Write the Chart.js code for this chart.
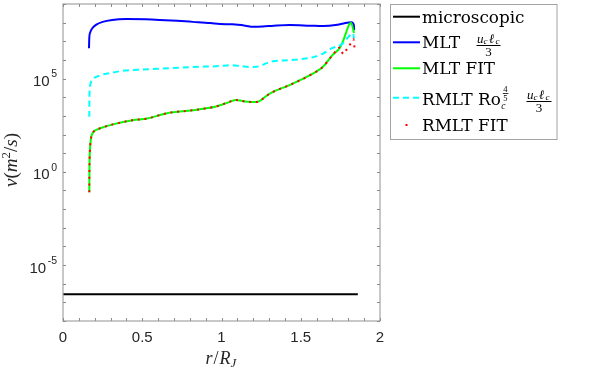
<!DOCTYPE html>
<html>
<head>
<meta charset="utf-8">
<script src="https://cdn.jsdelivr.net/npm/chart.js@4.4.1/dist/chart.umd.min.js"></script>
<style>
  html, body { margin: 0; padding: 0; background: #ffffff; }
  #wrap { width: 598px; height: 368px; }
</style>
</head>
<body>
<div id="wrap"><canvas id="nuChart" width="598" height="368"></canvas></div>
<script>
// radius r/R_J and viscosity nu (m^2/s)
const rMicro = [0, 1.86];
const nuMicro = [2.7e-7, 2.7e-7];

const rMLT = [0.164, 0.166, 0.171, 0.185, 0.21, 0.25, 0.31, 0.40, 0.52, 0.61, 0.72, 0.82, 0.93, 0.99, 1.07, 1.15, 1.20, 1.26, 1.33, 1.43, 1.56, 1.64, 1.72, 1.77, 1.82, 1.835, 1.837];
const nuMLT = [4.2e6, 1.6e7, 2.9e7, 5.0e7, 7.8e7, 1.1e8, 1.4e8, 1.55e8, 1.5e8, 1.4e8, 1.25e8, 1.1e8, 9.5e7, 8.5e7, 8.1e7, 6.9e7, 6.0e7, 6.2e7, 6.8e7, 7.4e7, 6.9e7, 6.6e7, 7.4e7, 9.1e7, 1.05e8, 7.4e7, 4.0e7];

const rMLTFit = [0.166, 0.1665, 0.168, 0.172, 0.178, 0.187, 0.205, 0.23, 0.315, 0.44, 0.53, 0.656, 0.82, 0.896, 0.96, 1.035, 1.09, 1.15, 1.22, 1.29, 1.325, 1.43, 1.54, 1.64, 1.70, 1.748, 1.77, 1.804, 1.817, 1.836];
const nuMLTFit = [8.1e-2, 0.66, 5.4, 27, 72, 120, 170, 210, 350, 590, 720, 1.4e3, 2.0e3, 2.5e3, 3.1e3, 5.0e3, 7.1e3, 5.9e3, 5.5e3, 1.3e4, 1.95e4, 4.5e4, 1.26e5, 4.3e5, 1.8e6, 4.7e6, 1.2e7, 7.4e7, 1.0e8, 2.8e7];

const rRMLT = [0.166, 0.1665, 0.169, 0.185, 0.23, 0.30, 0.39, 0.505, 0.675, 0.82, 0.99, 1.05, 1.12, 1.18, 1.22, 1.31, 1.43, 1.50, 1.59, 1.64, 1.70, 1.75, 1.78, 1.80, 1.83, 1.836];
const nuRMLT = [8.9e2, 7.1e3, 3.0e4, 8.3e4, 1.45e5, 2.0e5, 2.7e5, 3.1e5, 3.6e5, 4.2e5, 4.7e5, 5.2e5, 4.7e5, 4.2e5, 4.3e5, 7.9e5, 9.8e5, 1.1e6, 1.5e6, 2.2e6, 4.4e6, 6.3e6, 1.0e7, 1.7e7, 2.7e7, 1.4e7];

const rRMLTFit = [0.166, 0.1665, 0.168, 0.172, 0.178, 0.187, 0.205, 0.23, 0.315, 0.44, 0.53, 0.656, 0.82, 0.896, 0.96, 1.035, 1.09, 1.15, 1.22, 1.29, 1.325, 1.43, 1.54, 1.64, 1.70, 1.748, 1.768, 1.79, 1.806, 1.821, 1.832, 1.842];
const nuRMLTFit = [8.1e-2, 0.66, 5.4, 27, 72, 120, 170, 210, 350, 590, 720, 1.4e3, 2.0e3, 2.5e3, 3.1e3, 5.0e3, 7.1e3, 5.9e3, 5.5e3, 1.3e4, 1.95e4, 4.5e4, 1.26e5, 4.3e5, 1.8e6, 4.7e6, 2.1e6, 3.7e6, 5.8e6, 9.5e6, 1.3e7, 2.6e6];

// ticks
const xTickValues = [0, 0.1, 0.2, 0.3, 0.4, 0.5, 0.6, 0.7, 0.8, 0.9, 1, 1.1, 1.2, 1.3, 1.4, 1.5, 1.6, 1.7, 1.8, 1.9, 2];
const xLabelValues = [0, 0.5, 1, 1.5, 2];
const xLabels = ['0', '0.5', '1', '1.5', '2'];
const yTickExps = [-8, -7, -6, -5, -4, -3, -2, -1, 0, 1, 2, 3, 4, 5, 6, 7, 8, 9];
const yLabelExps = [-5, 0, 5];

const pts = (rs, vs) => rs.map((r, i) => ({ x: r, y: vs[i] }));

const SANS = '"Liberation Sans", Arial, sans-serif';
const SERIF = '"DejaVu Serif", serif';
const MATH = '"Liberation Serif", serif';

function frac(ctx, den, cx, barY, w) {
    // u_c l_c over 3
    ctx.save();
    ctx.textAlign = 'left';
    ctx.textBaseline = 'alphabetic';
    const x0 = cx - w / 2;
    ctx.font = 'italic 13px ' + MATH;
    ctx.fillText('u', x0 + 0.5, barY - 3);
    ctx.font = 'italic 9px ' + MATH;
    ctx.fillText('c', x0 + 7, barY - 1.5);
    ctx.font = 'italic 13px ' + MATH;
    ctx.fillText('\u2113', x0 + 12.5, barY - 3);
    ctx.font = 'italic 9px ' + MATH;
    ctx.fillText('c', x0 + 19, barY - 1.5);
    ctx.fillRect(x0, barY - 0.5, w, 1);
    ctx.font = '13px ' + MATH;
    ctx.textAlign = 'center';
    ctx.fillText(den, cx, barY + 10.5);
    ctx.restore();
}

const framePlugin = {
    id: 'frame',
    afterDraw(chart) {
        const { ctx, chartArea: a, scales: { x, y } } = chart;
        ctx.save();

        // axes box
        ctx.strokeStyle = '#a3a3a3';
        ctx.lineWidth = 1.2;
        ctx.strokeRect(a.left, a.top, a.right - a.left, a.bottom - a.top);

        // inward ticks
        ctx.strokeStyle = '#8c8c8c';
        ctx.lineWidth = 1;
        ctx.beginPath();
        xTickValues.forEach(v => {
            const px = Math.round(x.getPixelForValue(v)) + 0.5;
            ctx.moveTo(px, a.bottom); ctx.lineTo(px, a.bottom - 3);
            ctx.moveTo(px, a.top); ctx.lineTo(px, a.top + 3);
        });
        yTickExps.forEach(e => {
            const py = Math.round(y.getPixelForValue(Math.pow(10, e))) + 0.5;
            ctx.moveTo(a.left, py); ctx.lineTo(a.left + 3, py);
            ctx.moveTo(a.right, py); ctx.lineTo(a.right - 3, py);
        });
        ctx.stroke();

        // x tick labels
        ctx.fillStyle = '#262626';
        ctx.font = '15px ' + SANS;
        ctx.textAlign = 'center';
        ctx.textBaseline = 'middle';
        xLabelValues.forEach((v, i) => {
            ctx.fillText(xLabels[i], x.getPixelForValue(v), a.bottom + 16.5);
        });

        // y tick labels 10^e
        yLabelExps.forEach(e => {
            const py = y.getPixelForValue(Math.pow(10, e));
            ctx.font = '10.5px ' + SANS;
            const es = e < 0 ? '-' + Math.abs(e) : String(e);
            const ew = ctx.measureText(es).width;
            ctx.textAlign = 'left';
            ctx.textBaseline = 'middle';
            const xe = 57 - ew;
            ctx.fillText(es, xe, py - 4);
            ctx.font = '15px ' + SANS;
            ctx.textAlign = 'right';
            ctx.fillText('10', xe - 1.5, py + 3.5);
        });

        // axis titles
        ctx.fillStyle = '#262626';
        ctx.textBaseline = 'alphabetic';
        ctx.textAlign = 'left';
        {
            const parts = [['italic 18px ' + MATH, 'r'], ['18px ' + MATH, '/'], ['italic 18px ' + MATH, 'R']];
            let w = 0;
            parts.forEach(p => { ctx.font = p[0]; w += ctx.measureText(p[1]).width + 1; });
            ctx.font = 'italic 13px ' + MATH;
            w += ctx.measureText('J').width;
            let cx = (a.left + a.right) / 2 - w / 2;
            parts.forEach(p => { ctx.font = p[0]; ctx.fillText(p[1], cx, 364); cx += ctx.measureText(p[1]).width + 1; });
            ctx.font = 'italic 13px ' + MATH;
            ctx.fillText('J', cx - 1, 367);
        }
        ctx.save();
        ctx.translate(17, 160);
        ctx.rotate(-Math.PI / 2);
        {
            const parts = [['italic 19px ' + MATH, '\u03bd', 0], ['19px ' + MATH, '(', 0], ['italic 19px ' + MATH, 'm', 0],
                           ['13px ' + MATH, '2', -7.5], ['19px ' + MATH, '/', 0], ['italic 19px ' + MATH, 's', 0], ['19px ' + MATH, ')', 0]];
            let w = 0;
            parts.forEach(p => { ctx.font = p[0]; w += ctx.measureText(p[1]).width; });
            let cx = -w / 2;
            parts.forEach(p => { ctx.font = p[0]; ctx.fillText(p[1], cx, p[2]); cx += ctx.measureText(p[1]).width; });
        }
        ctx.restore();

        // legend
        const L = { left: 390, top: 4, right: 556.5, bottom: 139 };
        ctx.fillStyle = '#ffffff';
        ctx.fillRect(L.left, L.top, L.right - L.left, L.bottom - L.top);
        ctx.strokeStyle = '#a3a3a3';
        ctx.lineWidth = 1;
        ctx.strokeRect(L.left + 0.5, L.top + 0.5, L.right - L.left, L.bottom - L.top);

        const ds = chart.data.datasets;
        const rows = [
            { ly: 16.7, d: ds[0] },
            { ly: 42.3, d: ds[1] },
            { ly: 68.3, d: ds[2] },
            { ly: 97.7, d: ds[3] },
            { ly: 125, d: ds[4] }
        ];
        rows.forEach((row, i) => {
            ctx.save();
            ctx.strokeStyle = row.d.borderColor;
            ctx.lineWidth = 2;
            if (i === 4) {
                ctx.fillStyle = row.d.borderColor;
                ctx.fillRect(405.5, row.ly - 1, 2, 2);
            } else {
                if (i === 3) ctx.setLineDash([6, 4]);
                ctx.beginPath();
                ctx.moveTo(393, row.ly); ctx.lineTo(420, row.ly);
                ctx.stroke();
            }
            ctx.restore();
        });

        ctx.fillStyle = '#000000';
        ctx.font = '16.8px ' + SERIF;
        ctx.textAlign = 'left';
        ctx.textBaseline = 'alphabetic';
        ctx.fillText(ds[0].label, 422, 23.3);
        ctx.fillText('MLT', 422, 48.3);
        ctx.fillText(ds[2].label, 422, 74);
        ctx.fillText('RMLT Ro', 422, 105);
        ctx.fillText(ds[4].label, 422, 131);

        frac(ctx, '3', 488.5, 45.5, 24);

        // Ro_c^{4/5}
        const roEnd = 422 + ctx.measureText('RMLT Ro').width;
        ctx.font = 'italic 9.5px ' + MATH;
        ctx.fillText('c', roEnd + 0.5, 108.5);
        ctx.font = '8.5px ' + MATH;
        ctx.textAlign = 'center';
        ctx.fillText('4', roEnd + 4.5, 91.5);
        ctx.fillRect(roEnd + 2, 93.2, 5.5, 0.8);
        ctx.fillText('5', roEnd + 4.5, 100.5);

        frac(ctx, '3', 539, 101.5, 25);

        ctx.restore();
    }
};

new Chart(document.getElementById('nuChart'), {
    type: 'line',
    data: {
        datasets: [
            { label: 'microscopic', data: pts(rMicro, nuMicro), borderColor: '#000000', borderWidth: 2, order: 5 },
            { label: 'MLT uc lc / 3', data: pts(rMLT, nuMLT), borderColor: '#0000ff', borderWidth: 2, order: 4 },
            { label: 'MLT FIT', data: pts(rMLTFit, nuMLTFit), borderColor: '#00ff00', borderWidth: 2, order: 3 },
            { label: 'RMLT Ro^(4/5) uc lc / 3', data: pts(rRMLT, nuRMLT), borderColor: '#00ffff', borderWidth: 2, borderDash: [6, 4], order: 2 },
            { label: 'RMLT FIT', data: pts(rRMLTFit, nuRMLTFit), borderColor: '#ff0000', borderWidth: 2, borderDash: [2, 4.7], order: 1 }
        ]
    },
    options: {
        responsive: false,
        animation: false,
        events: [],
        parsing: false,
        elements: {
            point: { radius: 0 },
            line: { cubicInterpolationMode: 'monotone', fill: false }
        },
        layout: { padding: { left: 63, right: 218, top: 4, bottom: 47 } },
        plugins: {
            legend: { display: false },
            tooltip: { enabled: false }
        },
        scales: {
            x: { type: 'linear', min: 0, max: 2, display: false },
            y: { type: 'logarithmic', min: 1e-8, max: 1e9, display: false }
        }
    },
    plugins: [framePlugin]
});
</script>
</body>
</html>
